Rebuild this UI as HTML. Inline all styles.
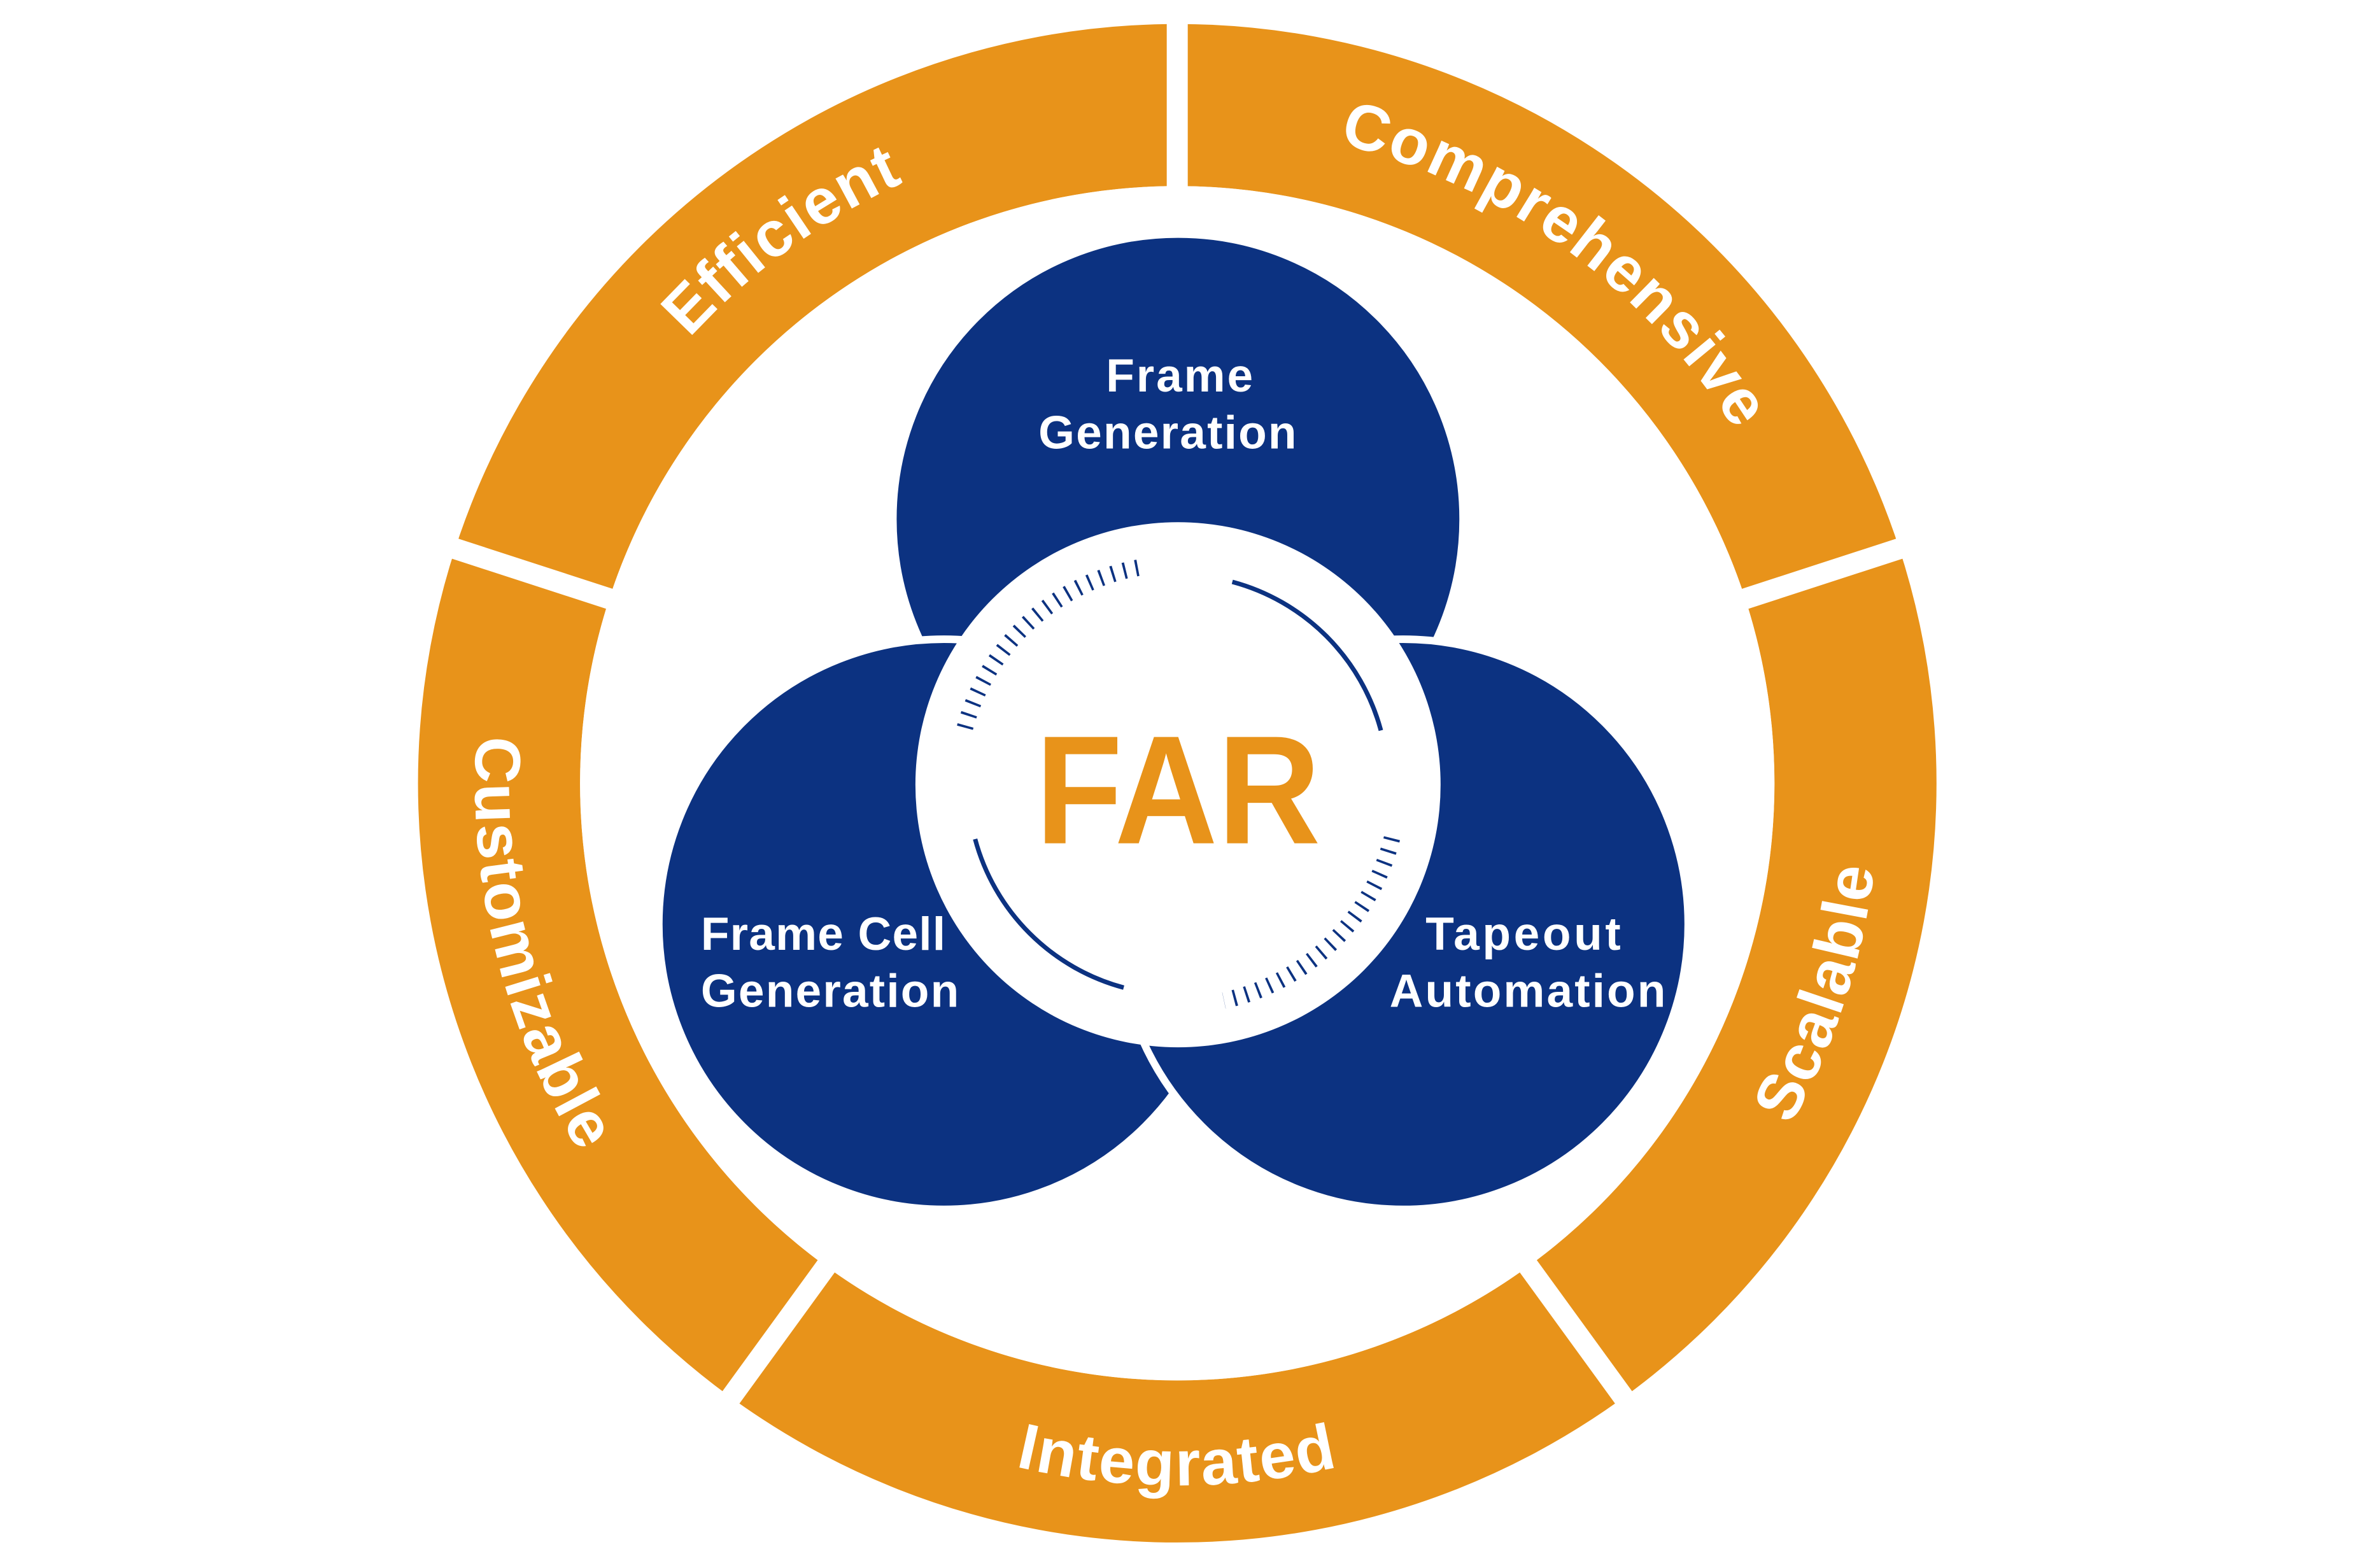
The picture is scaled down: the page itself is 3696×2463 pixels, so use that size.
<!DOCTYPE html>
<html><head><meta charset="utf-8"><style>
html,body{margin:0;padding:0;background:#fff;}
svg{display:block;}
</style></head><body>
<svg width="3696" height="2463" viewBox="0 0 1568 1045" xmlns="http://www.w3.org/2000/svg">
<defs>
<path id="pEff" d="M366.0,386.0 A440,440 0 0 1 784.5,82"/>
<path id="pComp" d="M784.5,82 A440,440 0 0 1 1203,386"/>
<path id="pScal" d="M1059.6,900.6 A468,468 0 0 0 1229.6,377.4"/>
<path id="pInt" d="M509.4,900.6 A468,468 0 0 0 1059.6,900.6"/>
<path id="pCust" d="M350.6,346.7 A468,468 0 0 0 483.7,880.5"/>
</defs>
<rect width="1568" height="1045" fill="#fff"/>
<circle cx="784.5" cy="522" r="452" fill="none" stroke="#E8931A" stroke-width="108"/>
<g stroke="#fff" stroke-width="14">
<line x1="784.5" y1="522" x2="784.5" y2="0"/>
<line x1="784.5" y1="522" x2="1290" y2="357.8"/>
<line x1="784.5" y1="522" x2="1097" y2="952"/>
<line x1="784.5" y1="522" x2="472" y2="952"/>
<line x1="784.5" y1="522" x2="279" y2="357.8"/>
</g>
<circle cx="784.5" cy="522" r="398" fill="#fff"/>
<g font-family="'Liberation Sans',sans-serif" font-weight="bold" font-size="43" fill="#fff" text-anchor="middle" letter-spacing="1">
<text><textPath href="#pEff" startOffset="50%">Efficient</textPath></text>
<text><textPath href="#pComp" startOffset="50%">Comprehensive</textPath></text>
<text><textPath href="#pScal" startOffset="50%">Scalable</textPath></text>
<text><textPath href="#pInt" startOffset="50%">Integrated</textPath></text>
<text><textPath href="#pCust" startOffset="50%">Customizable</textPath></text>
</g>
<g fill="#0C3281" stroke="#fff" stroke-width="5">
<circle cx="785" cy="346" r="190"/>
<circle cx="629" cy="616" r="190"/>
<circle cx="935" cy="616" r="190"/>
</g>
<circle cx="785" cy="523" r="175" fill="#fff"/>
<g fill="none" stroke="#0C3281">
<path d="M643.0,485.0 A147,147 0 0 1 759.5,378.2" stroke-width="11" stroke-dasharray="1.6 6.6"/>
<path d="M927.6,558.6 A147,147 0 0 1 815.6,666.8" stroke-width="11" stroke-dasharray="1.6 6.6"/>
<path d="M821.2,387.8 A140,140 0 0 1 920.2,486.8" stroke-width="3"/>
<path d="M748.8,658.2 A140,140 0 0 1 649.8,559.2" stroke-width="3"/>
</g>
<text x="690" y="562" font-family="'Liberation Sans',sans-serif" font-weight="bold" font-size="103" fill="#E8931A" textLength="190" lengthAdjust="spacingAndGlyphs">FAR</text>
<g font-family="'Liberation Sans',sans-serif" font-weight="bold" font-size="31" fill="#fff" lengthAdjust="spacingAndGlyphs">
<text x="737" y="261" textLength="98">Frame</text>
<text x="692" y="299" textLength="172">Generation</text>
<text x="467" y="633" textLength="163">Frame Cell</text>
<text x="467" y="671" textLength="172">Generation</text>
<text x="950" y="633" textLength="130">Tapeout</text>
<text x="926" y="671" textLength="184">Automation</text>
</g>
</svg>
</body></html>
